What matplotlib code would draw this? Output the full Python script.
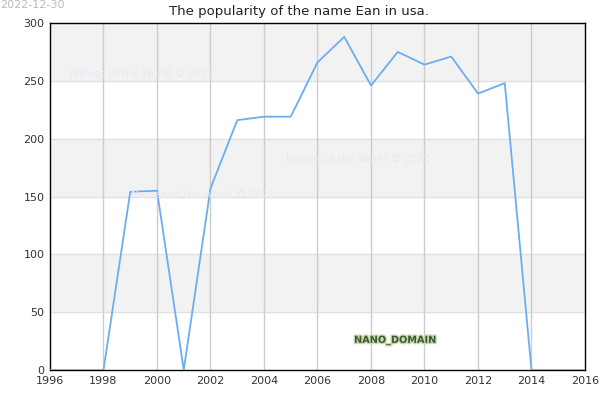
import matplotlib
matplotlib.use("Agg")
import matplotlib.pyplot as plt
import matplotlib.patheffects as pe

years = [1996, 1997, 1998, 1999, 2000, 2001, 2002, 2003, 2004, 2005, 2006,
         2007, 2008, 2009, 2010, 2011, 2012, 2013, 2014, 2015, 2016]
counts = [0, 0, 0, 154, 155, 0, 157, 216, 219, 219, 266,
          288, 246, 275, 264, 271, 239, 248, 0, 0, 0]
xticks = list(range(1996, 2017, 2))
yticks = [0, 50, 100, 150, 200, 250, 300]
title = "The popularity of the name Ean in usa."
date_label = "2022-12-30"
watermark = "Names of the World © 2022"

fig = plt.figure(figsize=(6, 4), dpi=100)
ax = fig.add_axes([50/600, 1-370/400, 535/600, 347/400])
ax.set_xlim(1996, 2016)
ax.set_ylim(0, 300)

for i in range(len(yticks) - 1):
    lo, hi = yticks[i], yticks[i+1]
    if i % 2 == 1:
        ax.axhspan(lo, hi, color="#f2f2f2", zorder=0, lw=0)
for y in yticks[1:-1]:
    ax.axhline(y, color="#e0e0e0", lw=1, zorder=1)
for x in xticks[1:-1]:
    ax.axvline(x, color="#cccccc", lw=1, zorder=1)

ax.plot(years, counts, color="#6aaef0", lw=1.3, zorder=3)

ax.set_xticks(xticks)
ax.set_yticks(yticks)
ax.tick_params(length=0, labelsize=8, labelcolor="#333333", pad=4)
for s in ax.spines.values():
    s.set_color("black")
    s.set_linewidth(1)

fig.text(299/600, 1-11/400, title, ha="center", va="center", fontsize=9.5, color="#222222")
fig.text(0, 1, date_label, ha="left", va="top", fontsize=8, color="#bbbbbb")

wm_color = "#e8e8f4"
fig.text(70/600, 1-74/400, watermark, ha="left", va="center", fontsize=7.4, color=wm_color, zorder=2)
fig.text(286/600, 1-159/400, watermark, ha="left", va="center", fontsize=7.4, color=wm_color, zorder=2)
fig.text(131/600, 1-195/400, watermark, ha="left", va="center", fontsize=7.4, color=wm_color, zorder=2)

t = fig.text(395/600, 1-340/400, "NANO_DOMAIN", ha="center", va="center", fontsize=7,
             color="#3d5a2a", fontweight="bold")
t.set_path_effects([pe.withStroke(linewidth=2, foreground="#c8d8b0")])

fig.savefig("out.png", dpi=100)
